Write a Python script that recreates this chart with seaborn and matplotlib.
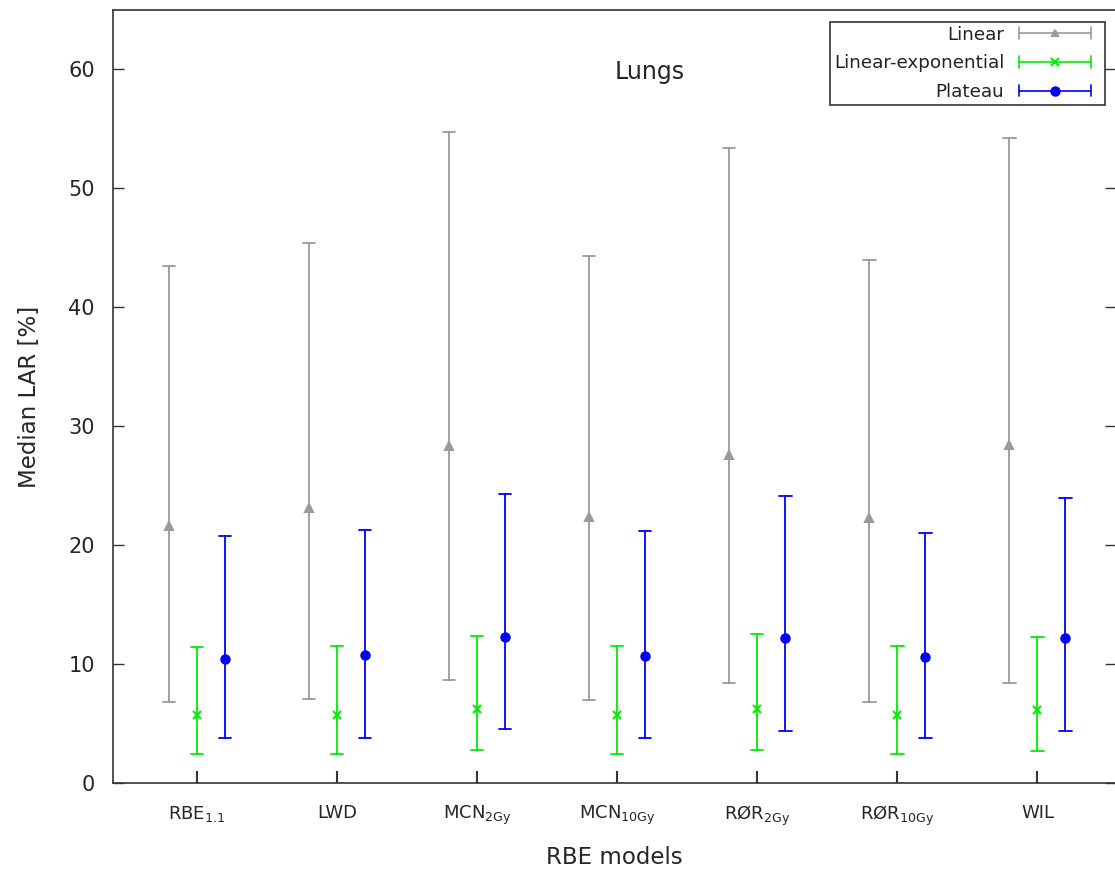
import numpy as np
import pandas as pd
import matplotlib
matplotlib.use("Agg")
import matplotlib.pyplot as plt
import seaborn as sns
from matplotlib.lines import Line2D
from matplotlib.legend_handler import HandlerBase

# ---- data ----
models = [r"RBE$\mathregular{_{1.1}}$", "LWD", r"MCN$\mathregular{_{2Gy}}$",
          r"MCN$\mathregular{_{10Gy}}$", r"RØR$\mathregular{_{2Gy}}$",
          r"RØR$\mathregular{_{10Gy}}$", "WIL"]
series = ["Linear", "Linear-exponential", "Plateau"]

linear_med = [21.6, 23.1, 28.3, 22.4, 27.6, 22.3, 28.4]
linear_lo = [6.8, 7.1, 8.7, 7.0, 8.4, 6.8, 8.4]
linear_hi = [43.5, 45.4, 54.7, 44.3, 53.4, 44.0, 54.2]

linexp_med = [5.7, 5.7, 6.2, 5.7, 6.2, 5.7, 6.1]
linexp_lo = [2.4, 2.4, 2.8, 2.4, 2.8, 2.4, 2.7]
linexp_hi = [11.4, 11.5, 12.4, 11.5, 12.5, 11.5, 12.3]

plateau_med = [10.4, 10.8, 12.3, 10.7, 12.2, 10.6, 12.2]
plateau_lo = [3.8, 3.8, 4.5, 3.8, 4.4, 3.8, 4.4]
plateau_hi = [20.8, 21.3, 24.3, 21.2, 24.1, 21.0, 24.0]

colors = ["#9a9a9a", "#00ee00", "#0000ff"]
markers = ["^", "x", "o"]

# long table: low / median / high per model and series
rows = []
for name, lo, med, hi in [("Linear", linear_lo, linear_med, linear_hi),
                          ("Linear-exponential", linexp_lo, linexp_med, linexp_hi),
                          ("Plateau", plateau_lo, plateau_med, plateau_hi)]:
    for m, a, b, c in zip(models, lo, med, hi):
        for v in (a, b, c):
            rows.append({"model": m, "series": name, "value": v})
df = pd.DataFrame(rows)

sns.set_theme(style="white")
plt.rcParams["font.family"] = ["DejaVu Sans"]
plt.rcParams["mathtext.fontset"] = "dejavusans"

fig = plt.figure(figsize=(11.15, 8.69), dpi=100)
ax = fig.add_axes([113 / 1115, 86 / 869, (1115.5 - 113) / 1115, 773 / 869])

sns.pointplot(data=df, x="model", y="value", hue="series", order=models,
              hue_order=series, palette=colors, markers=markers,
              linestyles="none", estimator=np.median,
              errorbar=lambda x: (np.min(x), np.max(x)),
              dodge=0.4, capsize=0.088, err_kws={"linewidth": 1.3},
              markersize=6, markeredgewidth=1.5, ax=ax, legend=False)

ax.set_xlim(-0.6, 6.557)
ax.set_ylim(0, 65)
ax.set_yticks([0, 10, 20, 30, 40, 50, 60])
ax.tick_params(axis="y", direction="in", length=8, width=1, labelsize=15,
               left=True, right=True, color="#333333", pad=13)
ax.tick_params(axis="x", direction="in", length=9, width=1.5, labelsize=13,
               bottom=True, color="#333333", pad=15)
for s in ax.spines.values():
    s.set_color("#333333")
    s.set_linewidth(1.2)
ax.set_xlabel("RBE models", fontsize=16.5, labelpad=13)
ax.set_ylabel("Median LAR [%]", fontsize=16.5, labelpad=20)
ax.text(3.23, 59.8, "Lungs", fontsize=17, ha="center", va="center")


class GnuErrHandler(HandlerBase):
    def create_artists(self, legend, orig_handle, xdescent, ydescent,
                       width, height, fontsize, trans):
        c = orig_handle.get_color()
        mk = orig_handle.get_marker()
        y = height / 2 - ydescent
        x0 = -xdescent
        x1 = x0 + width * 0.88
        h = height * 0.45
        arts = [Line2D([x0, x1], [y, y], color=c, lw=1.2),
                Line2D([x0, x0], [y - h, y + h], color=c, lw=1.2),
                Line2D([x1, x1], [y - h, y + h], color=c, lw=1.2),
                Line2D([(x0 + x1) / 2], [y], color=c, marker=mk,
                       markersize=6 if mk != "^" else 5, mew=1.5, ls="none")]
        for a in arts:
            a.set_transform(trans)
        return arts


handles = [Line2D([], [], color=c, marker=m) for c, m in zip(colors, markers)]
leg = ax.legend(handles, series, loc="upper right",
                bbox_to_anchor=(1105 / 1115, 1 - 22 / 869),
                bbox_transform=fig.transFigure,
                markerfirst=False, fontsize=13.2, frameon=True, fancybox=False,
                edgecolor="black", handlelength=4.5, handletextpad=0.8,
                labelspacing=0.58, borderpad=0.2, borderaxespad=0,
                handler_map={Line2D: GnuErrHandler()})
leg.get_frame().set_linewidth(1.2)
for t in leg.get_texts():
    t.set_color("#222222")

fig.savefig("out.png", dpi=100)
